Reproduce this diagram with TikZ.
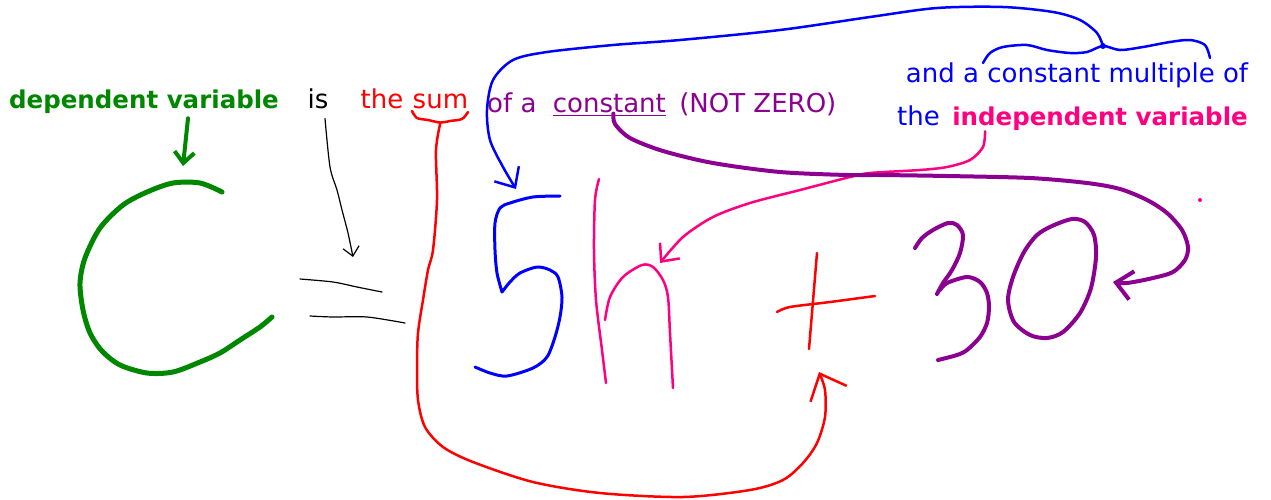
\documentclass[tikz,border=0pt]{standalone}
\usepackage{fontspec}
\setmainfont{DejaVu Sans}
\usetikzlibrary{arrows.meta, positioning}
\definecolor{inkgreen}{RGB}{0,135,0}
\definecolor{inkblue}{RGB}{0,0,255}
\definecolor{inkred}{RGB}{255,0,0}
\definecolor{inkpurple}{RGB}{140,0,145}
\definecolor{inkpink}{RGB}{255,0,128}

\begin{document}
\begin{tikzpicture}[
  x=1pt, y=-1pt,
  lbl/.style={inner sep=0pt, font=\fontsize{26}{30}\selectfont},
  boldlbl/.style={inner sep=0pt, font=\fontsize{24.5}{30}\selectfont\bfseries},
  ink/.style={line cap=round, line join=round},
  arr/.style={ink, -{Straight Barb[length=#1, width=1.8*#1]}},
  arr/.default=11pt
]
  \fill[white] (0,0) rectangle (1271,499);
  \useasboundingbox (0,0) rectangle (1271,499);

  % typed labels
  \node[boldlbl, text=inkgreen, anchor=base] (depvar) at (144,108) {dependent variable};
  \node[lbl, anchor=base] (is) at (318,108) {is};
  \node[lbl, text=inkred, anchor=base] (the) at (382,108) {the};
  \node[lbl, text=inkred, base right=9pt of the] (sum) {sum};
  \node[lbl, text=inkpurple, anchor=base west] (ofa) at (487,112) {of a};
  \node[lbl, text=inkpurple, base right=16pt of ofa] (const) {constant};
  \node[lbl, text=inkpurple, base right=13pt of const] (notzero) {(NOT ZERO)};
  \node[lbl, text=inkblue, anchor=base] (andmult) at (1077,82) {and a constant multiple of};
  \node[lbl, text=inkblue, anchor=base west] (thevar) at (897,125) {the};
  \node[boldlbl, text=inkpink, base right=12pt of thevar] (indep) {independent variable};

  \coordinate (varfoot) at ([xshift=44pt, yshift=-5pt]depvar.south);
  \coordinate (isfoot) at ([xshift=7pt, yshift=-10pt]is.south);
  \coordinate (sumfoot) at ([yshift=-14pt]sum.south);
  \coordinate (constfoot) at ([xshift=4pt, yshift=-1pt]const.south);
  \coordinate (indepfoot) at ([xshift=33pt, yshift=-1pt]indep.south west);
  \coordinate (bluejoin) at (1103,46);
  \coordinate (ctop) at (183,166);
  \coordinate (eqtop) at (353,257);
  \coordinate (fivetop) at (516,189);
  \coordinate (htop) at (660,263);
  \coordinate (plusfoot) at (819,372);
  \coordinate (zeroside) at (1113,282);

  % C = 5h + 30
  \draw[ink, inkgreen, line width=5pt] plot[smooth] coordinates {(222,192) (200,183) (173,183) (147,192) (123,205) (100,228) (85,258) (80,283) (83,310) (90,333) (102,351) (120,365) (147,373) (173,372) (200,362) (220,353) (240,340) (260,327) (272,317)};
  \draw[ink, line width=1.2pt] plot[smooth] coordinates {(300,279) (333,282) (357,287) (382,292)};
  \draw[ink, line width=1.2pt] plot[smooth] coordinates {(310,316) (333,317) (367,317) (405,323)};
  \draw[ink, inkblue, line width=3pt] plot[smooth] coordinates {(560,196) (533,197) (510,203) (500,208) (495,223) (495,250) (497,273) (502,292)}
    -- plot[smooth] coordinates {(502,292) (510,282) (520,273) (537,267) (550,270) (558,277) (562,297) (560,317) (555,337) (547,357) (533,368) (507,376) (490,373) (475,367)};
  \draw[ink, inkpink, line width=2.5pt] plot[smooth] coordinates {(599,179) (595,200) (594,250) (596,300) (602,350) (606,383)};
  \draw[ink, inkpink, line width=2.5pt] plot[smooth] coordinates {(605,320) (610,297) (623,277) (642,265) (653,267) (663,280) (668,297) (670,333) (673,388)};
  \draw[ink, inkred, line width=2.5pt] (817,253) -- (809,349);
  \draw[ink, inkred, line width=2.5pt] plot[smooth] coordinates {(777,312) (790,307) (830,302) (875,296)};
  \draw[ink, inkpurple, line width=4pt] plot[smooth] coordinates {(915,248) (922,238) (933,230) (948,223) (957,225) (963,235) (960,253) (952,270) (943,283) (937,294)};
  \draw[ink, inkpurple, line width=4pt] plot[smooth] coordinates {(940,290) (947,283) (967,277) (980,282) (987,293) (989,307) (987,323) (980,337) (967,350) (957,355) (938,360)};
  \draw[ink, inkpurple, line width=4pt] plot[smooth cycle] coordinates {(1052,226) (1072,219) (1085,222) (1094,235) (1096,257) (1091,288) (1080,313) (1063,332) (1047,338) (1030,335) (1014,322) (1008,300) (1013,277) (1024,252) (1037,235)};

  % braces and underline
  \draw[ink, inkred, line width=2.5pt] plot[smooth] coordinates {(412,111) (417,118) (428,120) (sumfoot) (450,121) (462,119) (468,112)};
  \draw[ink, inkblue, line width=2.5pt] plot[smooth] coordinates {(983,63) (990,53) (1003,47) (1027,45) (1047,50) (1070,53) (1087,52) (bluejoin) (1120,50) (1143,47) (1170,42) (1190,40) (1205,45) (1210,58)};
  \fill[inkblue] (bluejoin) circle (3);
  \draw[inkpurple, line width=1.2pt] ([yshift=-3pt]const.south west) -- ([yshift=-3pt]const.south east);
  \fill[inkpink] (1200,200) circle (2);

  % arrows
  \draw[arr, inkgreen, line width=4pt] (varfoot) -- (ctop);
  \draw[arr=9pt, line width=1.2pt] plot[smooth] coordinates {(isfoot) (330,167) (337,190) (342,210) (348,233) (eqtop)};
  \draw[arr=22pt, inkred, line width=2.5pt] plot[smooth] coordinates {(sumfoot) (436,150) (437,200) (433,250) (428,270) (423,300) (418,333) (417,367) (418,400) (425,427) (443,447) (473,462) (533,482) (600,493) (683,497) (750,490) (783,480) (803,463) (817,443) (825,417) (825,390) (plusfoot)};
  \draw[arr=16pt, inkblue, line width=2.5pt] plot[smooth] coordinates {(bluejoin) (1097,33) (1080,20) (1053,12) (1003,7) (937,8) (870,17) (780,30) (680,40) (613,45) (547,52) (513,60) (493,80) (487,110) (490,140) (503,167) (fivetop)};
  \draw[arr=14pt, inkpink, line width=2.5pt] plot[smooth] coordinates {(indepfoot) (983,147) (970,160) (947,167) (920,170) (870,173) (850,177) (800,190) (750,203) (713,217) (683,237) (htop)};
  \draw[arr=16pt, inkpurple, line width=4pt] plot[smooth] coordinates {(constfoot) (615,124) (630,138) (663,151) (713,163) (780,172) (847,175) (880,175) (947,176) (1030,178) (1087,183) (1120,189) (1147,200) (1167,213) (1182,230) (1188,247) (1185,260) (1173,272) (1153,278) (1127,283) (zeroside)};
\end{tikzpicture}
\end{document}
